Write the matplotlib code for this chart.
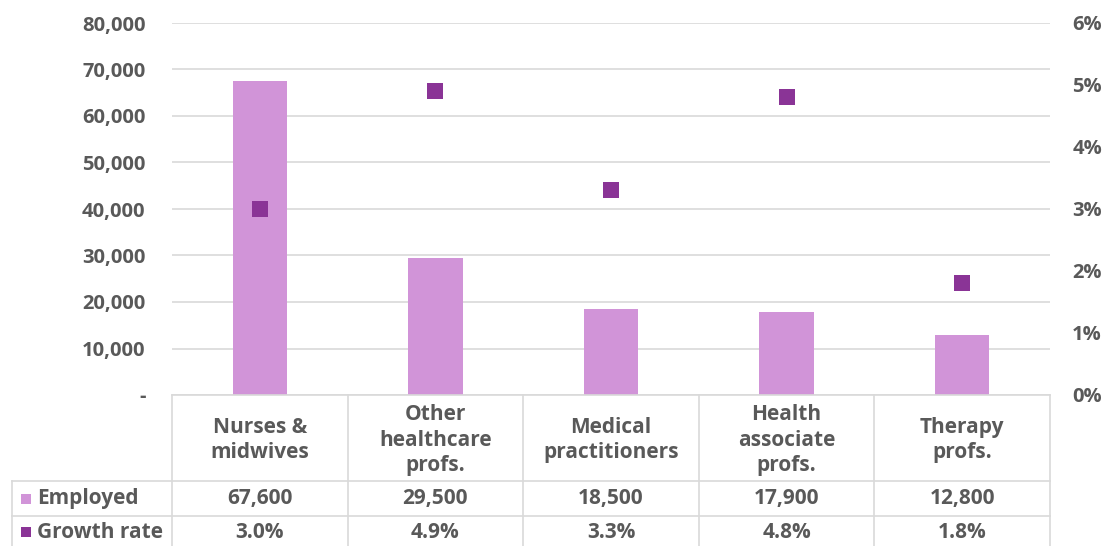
import matplotlib.pyplot as plt
from matplotlib.ticker import FuncFormatter
from matplotlib.patches import Rectangle

categories = ["Nurses &\nmidwives", "Other\nhealthcare\nprofs.", "Medical\npractitioners",
              "Health\nassociate\nprofs.", "Therapy\nprofs."]
employed = [67600, 29500, 18500, 17900, 12800]
growth = [3.0, 4.9, 3.3, 4.8, 1.8]

bar_color = "#D194D8"
dot_color = "#8A3496"
text_color = "#595959"
grid_color = "#D9D9D9"

plt.rcParams['font.family'] = ['Open Sans', 'DejaVu Sans']
plt.rcParams['font.weight'] = 'bold'

W, H = 1106, 546
fig = plt.figure(figsize=(W / 100, H / 100), dpi=100)

# main plot area in pixels
left, right, top, bottom = 172, 1050, 23, 395
ax = fig.add_axes([left / W, 1 - bottom / H, (right - left) / W, (bottom - top) / H])
x = list(range(len(categories)))
ax.bar(x, employed, width=0.31, color=bar_color, zorder=2)
ax.set_xlim(-0.5, len(categories) - 0.5)
ax.set_ylim(0, 80000)
ax.set_yticks(range(0, 80001, 10000))
ax.yaxis.set_major_formatter(FuncFormatter(lambda v, p: "-" if v == 0 else f"{int(v):,}"))
ax.grid(axis="y", color=grid_color, linewidth=1.2, zorder=0)
ax.set_xticks([])
for s in ax.spines.values():
    s.set_visible(False)
ax.tick_params(axis="y", length=0, pad=19, labelsize=14.5, labelcolor=text_color)

ax2 = ax.twinx()
ax2.scatter(x, growth, marker="s", s=125, color=dot_color, zorder=3, linewidths=0)
ax2.set_ylim(0, 6)
ax2.set_yticks(range(0, 7))
ax2.yaxis.set_major_formatter(FuncFormatter(lambda v, p: f"{int(v)}%"))
ax2.tick_params(axis="y", length=0, pad=16, labelsize=14.5, labelcolor=text_color)
for s in ax2.spines.values():
    s.set_visible(False)

# data table below the chart, drawn in pixel coordinates
fig.canvas.draw()
tab = fig.add_axes([0, 0, 1, 1])
tab.set_xlim(0, W)
tab.set_ylim(H, 0)
tab.axis("off")
tab.patch.set_alpha(0)

def px(v):
    return ax.transData.transform((v, 0))[0]

row_tops = [395, 481, 516, 560]
label_left = 12
lw = 1.2
# horizontal lines
tab.plot([left, right], [row_tops[0]] * 2, color=grid_color, lw=lw)
for yy in row_tops[1:3]:
    tab.plot([label_left, right], [yy, yy], color=grid_color, lw=lw)
# vertical lines
for i in range(len(categories) + 1):
    xx = px(i - 0.5)
    tab.plot([xx, xx], [row_tops[0], H], color=grid_color, lw=lw)
tab.plot([label_left, label_left], [row_tops[1], H], color=grid_color, lw=lw)

fs = 15
for i, c in enumerate(categories):
    tab.text(px(i), (row_tops[0] + row_tops[1]) / 2 + 2, c, ha="center", va="center",
             fontsize=fs, color=text_color, linespacing=1.3)
    tab.text(px(i), (row_tops[1] + row_tops[2]) / 2, f"{employed[i]:,}", ha="center",
             va="center", fontsize=fs, color=text_color)
    tab.text(px(i), 532, f"{growth[i]:.1f}%", ha="center", va="center",
             fontsize=fs, color=text_color)

row_labels = ["Employed", "Growth rate"]
row_colors = [bar_color, dot_color]
row_y = [(row_tops[1] + row_tops[2]) / 2, 532]
for lab, col, yy in zip(row_labels, row_colors, row_y):
    tab.add_patch(Rectangle((21, yy - 5), 10, 10, color=col, lw=0))
    tab.text(37, yy, lab, ha="left", va="center", fontsize=fs, color=text_color)

fig.savefig("out.png", dpi=100)
